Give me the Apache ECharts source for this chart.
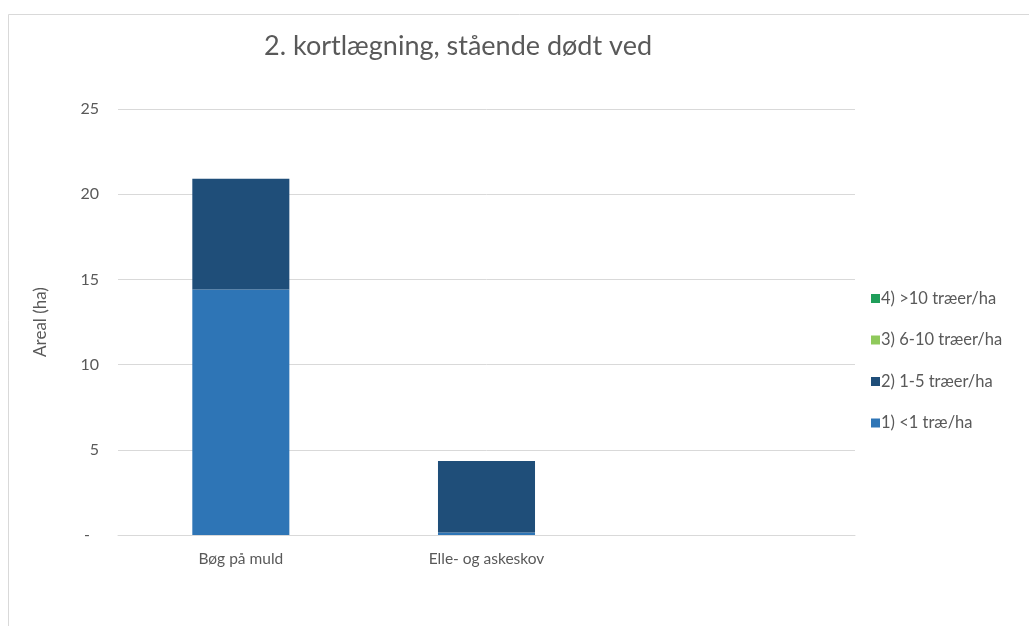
<!DOCTYPE html>
<html>
<head>
<meta charset="utf-8">
<script src="https://cdn.jsdelivr.net/npm/echarts@6/dist/echarts.min.js"></script>
<style>
html,body{margin:0;padding:0;background:#fff;}
#chart{width:1029px;height:626px;}
</style>
</head>
<body>
<div id="chart"></div>
<script>
const categories = ['Bøg på muld', 'Elle- og askeskov', ''];
const seriesNames = ['1) <1 træ/ha', '2) 1-5 træer/ha', '3) 6-10 træer/ha', '4) >10 træer/ha'];
const s1 = [14.4, 0.15, null];
const s2 = [6.5, 4.2, null];
const s3 = [0, 0, null];
const s4 = [0, 0, null];
const seriesColors = ['#2e75b6', '#1f4e79', '#8fc95b', '#1f9e5a'];
const yTicks = [0, 5, 10, 15, 20, 25];

const chart = echarts.init(document.getElementById('chart'), null, {renderer: 'canvas'});
const font = 'Lato, "Open Sans", sans-serif';
const values = [s1, s2, s3, s4];
chart.setOption({
  animation: false,
  backgroundColor: '#ffffff',
  textStyle: {fontFamily: font},
  title: {
    text: '2. kortlægning, stående dødt ved',
    left: 453, top: 28, textAlign: 'center',
    textStyle: {fontFamily: font, fontSize: 27, fontWeight: 'normal', color: '#595959'}
  },
  graphic: [{
    type: 'rect', shape: {x: 8.5, y: 14.5, width: 1100, height: 800},
    style: {fill: 'none', stroke: '#d9d9d9', lineWidth: 1}, silent: true
  }],
  legend: {
    orient: 'vertical', left: 866, top: 285,
    itemWidth: 9, itemHeight: 9, itemGap: 24.5,
    data: seriesNames.slice().reverse(),
    icon: 'rect',
    textStyle: {fontFamily: font, fontSize: 16.5, color: '#595959', padding: [0,0,0,-4]}
  },
  grid: {left: 118, right: 174, top: 109, bottom: 91, containLabel: false},
  xAxis: {
    type: 'category', data: categories,
    axisLine: {lineStyle: {color: '#d9d9d9'}},
    axisTick: {show: false},
    axisLabel: {color: '#595959', fontSize: 15.5, margin: 16, fontFamily: font}
  },
  yAxis: {
    type: 'value', min: yTicks[0], max: yTicks[yTicks.length - 1], interval: 5,
    name: 'Areal (ha)', nameLocation: 'middle', nameGap: 69, nameRotate: 90,
    nameTextStyle: {color: '#595959', fontSize: 17, fontFamily: font},
    axisLine: {show: false}, axisTick: {show: false},
    axisLabel: {color: '#595959', fontSize: 16, margin: 19, fontFamily: font,
      formatter: v => v === 0 ? '{d|-}' : String(v),
      rich: {d: {color: '#595959', fontSize: 16, fontFamily: font, padding: [0, 9, 0, 0]}}},
    splitLine: {lineStyle: {color: '#d9d9d9'}}
  },
  series: seriesNames.map((n, i) => ({
    name: n, type: 'bar', stack: 'total', data: values[i],
    barWidth: '39.5%',
    itemStyle: {color: seriesColors[i]}
  }))
});
</script>
</body>
</html>
